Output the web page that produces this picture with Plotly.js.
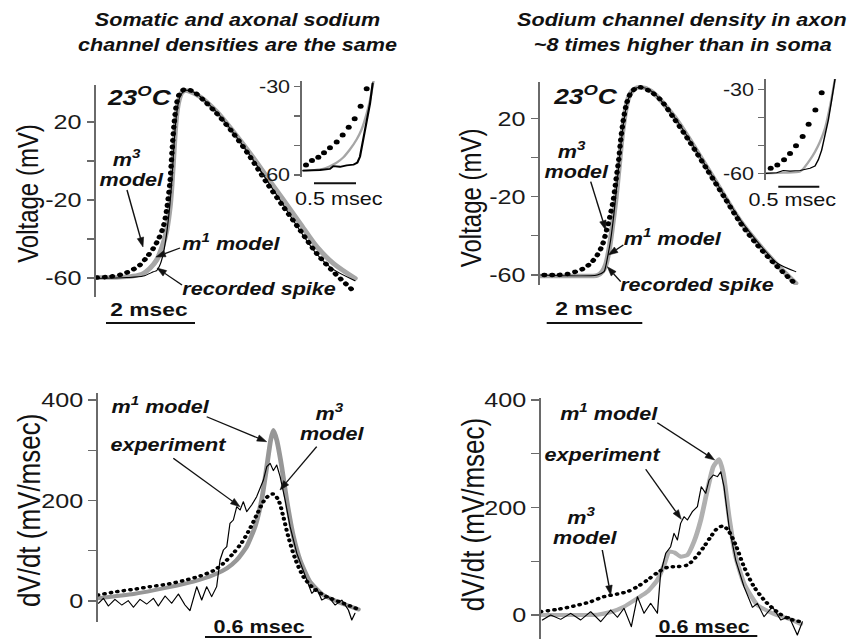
<!DOCTYPE html>
<html><head><meta charset="utf-8">
<script src="https://cdn.plot.ly/plotly-3.0.1.min.js"></script>
<style>
html,body{margin:0;padding:0;background:#fff;overflow:hidden}
#wrap{width:848px;height:639px;overflow:hidden;position:relative}
#chart{width:707px;height:639px;transform:scaleX(1.19943);transform-origin:0 0}
.scatterlayer .js-line{stroke-linecap:round;stroke-linejoin:round}
</style>
</head><body><div id="wrap"><div id="chart"></div></div>
<script>
// ---------- Panel A: equal somatic/axonal densities (time ms, voltage mV) ----------
const aM1T = [0.015,0.464,0.839,1.064,1.213,1.363,1.513,1.588,1.663,1.700,1.738,1.775,1.813,1.865,1.925,2.0,2.112,2.337,2.712,3.086,3.461,3.835,4.21,4.584,4.959,5.333,5.82];
const aM1V = [-59.8,-59.7,-59.0,-57.6,-55.0,-50.8,-42.2,-35.4,-23.4,-13.2,0.5,14.2,24.4,31.3,35.0,36.1,35.6,33.0,25.3,15.0,3.9,-8.0,-20.0,-32.0,-43.9,-52.5,-60.2];
const aM3T = [0.015,0.315,0.614,0.839,0.989,1.139,1.288,1.401,1.513,1.588,1.663,1.708,1.753,1.813,1.888,2.0,2.187,2.412,2.712,3.086,3.461,3.835,4.21,4.584,4.959,5.333,5.745];
const aM3V = [-59.8,-59.3,-57.9,-55.6,-53.3,-49.4,-44.8,-40.2,-33.7,-25.1,-10.6,4.8,18.5,29.6,35.0,36.8,35.6,31.3,24.4,14.2,2.2,-11.1,-23.4,-35.4,-47.4,-56.8,-65.8];
const aRecT = [0.015,0.689,1.064,1.288,1.363,1.438,1.513,1.588,1.663,1.715,1.760,1.813,1.888,2.0,2.187,2.712,3.086,3.461,3.835,4.21,4.584,4.959,5.333,5.82];
const aRecV = [-60.2,-59.8,-59.0,-56.8,-56.2,-53.3,-47.4,-37.1,-21.7,-6.3,10.8,24.4,33.0,36.1,35.4,25.1,14.5,2.9,-9.7,-22.6,-35.7,-47.7,-55.6,-61.4];
// inset A
const iaM3T = [0.048,0.119,0.194,0.262,0.333,0.413,0.484,0.556,0.627,0.698,0.770];
const iaM3V = [-56.6,-55.1,-54.0,-52.4,-50.7,-48.8,-46.4,-43.8,-40.9,-36.6,-30.7];
const iaM1T = [0.016,0.135,0.254,0.333,0.413,0.492,0.571,0.651,0.710,0.770,0.810,0.857];
const iaM1V = [-58.5,-58.3,-57.9,-57.0,-55.8,-54.0,-51.3,-47.9,-44.5,-39.1,-34.5,-27.2];
const iaRecT = [0.016,0.214,0.333,0.373,0.452,0.532,0.611,0.659,0.690,0.730,0.770,0.810,0.841];
const iaRecV = [-58.5,-58.3,-57.9,-57.0,-57.2,-56.7,-56.5,-55.8,-53.8,-48.1,-42.5,-35.7,-28.9];

// ---------- Panel B: axon density ~8x soma ----------
const bM3T = [0.084,0.363,0.572,0.746,0.921,1.06,1.199,1.304,1.395,1.478,1.534,1.59,1.646,1.688,1.743,1.813,1.897,2.001,2.106,2.315,2.524,2.803,3.152,3.501,3.849,4.198,4.547,4.895,5.328];
const bM3V = [-60.0,-60.0,-59.5,-58.3,-56.6,-54.0,-49.8,-44.7,-37.0,-28.5,-21.7,-11.5,-1.3,8.9,19.1,27.7,32.8,35.3,35.8,33.6,29.4,20.0,7.2,-6.4,-20.0,-33.6,-44.7,-54.0,-64.2];
const bM1T = [0.014,0.711,1.199,1.304,1.374,1.444,1.513,1.583,1.653,1.722,1.792,1.862,1.967,2.106,2.315,2.803,3.501,4.198,4.895,5.349];
const bM1V = [-60.5,-60.5,-60.2,-58.3,-54.9,-47.2,-35.3,-21.7,-4.7,12.3,24.3,31.1,34.8,35.8,34.1,20.9,-5.5,-32.8,-53.2,-64.2];
const bRecT = [0.014,1.199,1.339,1.374,1.409,1.478,1.548,1.618,1.688,1.757,1.841,1.967,2.106,2.315,2.803,3.501,4.198,4.547,4.756,4.965,5.349];
const bRecV = [-60.0,-60.0,-58.3,-55.7,-51.5,-42.1,-28.5,-11.5,5.5,19.1,29.4,34.8,35.8,34.1,20.9,-5.5,-32.0,-43.0,-48.9,-54.0,-58.3];
// inset B
const ibM3T = [0.057,0.138,0.220,0.293,0.366,0.447,0.520,0.602,0.679];
const ibM3V = [-58.2,-57.0,-55.2,-52.9,-50.2,-46.9,-42.5,-37.4,-31.2];
const ibM1T = [0,0.211,0.415,0.476,0.537,0.598,0.659,0.720,0.780,0.841];
const ibM1V = [-60.0,-59.8,-59.4,-57.6,-55.2,-52.3,-48.7,-43.9,-36.2,-26.4];
const ibRecT = [0,0.130,0.211,0.293,0.415,0.537,0.598,0.638,0.679,0.720,0.760,0.801,0.841];
const ibRecV = [-60,-59.8,-59.0,-59.2,-59.0,-58.2,-57.4,-55.2,-51.7,-46.9,-41.0,-33.8,-26.4];

// ---------- Panel C: dV/dt, equal densities (ms, mV/msec) ----------
const cM1T = [0,0.201,0.388,0.538,0.651,0.726,0.782,0.838,0.885,0.922,0.951,0.973,0.988,1.007,1.035,1.063,1.101,1.138,1.194,1.269,1.363,1.466];
const cM1D = [5.3,13.9,26.5,38.5,51.7,65.0,81.6,108.1,147.9,201.0,267.3,320.4,340.3,320.4,267.3,201.0,128.0,81.6,38.5,11.9,-3.3,-16.6];
const cM3T = [0,0.107,0.201,0.294,0.388,0.482,0.576,0.651,0.707,0.763,0.810,0.857,0.894,0.932,0.960,0.988,1.016,1.044,1.072,1.110,1.157,1.213,1.288,1.382,1.466];
const cM3D = [11.9,18.6,23.2,28.5,33.2,40.5,49.8,60.4,75.0,94.9,116.1,144.6,171.1,197.7,209.0,212.9,201.0,167.8,128.0,84.9,48.4,25.2,8.6,-4.6,-16.6];
const cExpT = [0.004,0.032,0.060,0.097,0.135,0.172,0.201,0.238,0.276,0.313,0.341,0.379,0.416,0.454,0.491,0.519,0.557,0.585,0.613,0.641,0.669,0.688,0.707,0.726,0.744,0.763,0.782,0.801,0.819,0.838,0.866,0.894,0.932,0.951,0.970,0.988,1.007,1.026,1.054,1.082,1.120,1.148,1.176,1.204,1.232,1.260,1.297,1.335,1.373,1.410,1.429,1.447];
const cExpD = [-4.6,5.3,-10.0,3.3,-8.0,0.7,-12.6,3.3,-6.0,5.3,-10.0,10.0,-4.6,13.9,-8.0,-19.2,28.5,2.0,28.5,8.6,28.5,81.6,101.5,108.1,154.6,161.2,187.7,181.1,197.7,177.8,191.0,207.6,240.8,267.3,274.0,259.4,270.6,247.4,201.0,147.9,94.9,68.3,38.5,15.3,25.2,2.0,8.6,-8.0,2.0,-17.9,-37.8,-24.5];

// ---------- Panel D: dV/dt, axon density ~8x ----------
const dM1T = [0,0.197,0.335,0.413,0.492,0.571,0.630,0.689,0.728,0.758,0.791,0.826,0.866,0.905,0.945,0.984,1.019,1.053,1.078,1.112,1.151,1.2,1.279,1.377,1.476,1.535];
const dM1D = [0,0,0.6,5.6,15.5,31.0,43.4,65.1,93.0,117.8,116.0,108.5,111.6,136.4,176.7,232.6,276.0,289.6,263.6,182.9,108.5,58.9,18.6,1.9,-8.1,-16.7];
const dM3T = [0,0.098,0.197,0.295,0.374,0.453,0.512,0.571,0.630,0.689,0.748,0.807,0.866,0.915,0.964,1.004,1.043,1.078,1.112,1.151,1.2,1.259,1.328,1.407,1.476,1.535];
const dM3D = [6.2,10.5,16.7,24.8,34.1,39.1,43.4,52.7,65.1,78.8,88.7,89.9,93.0,107.3,127.1,145.7,161.2,165.6,155.0,130.2,89.9,52.7,24.8,3.1,-8.1,-12.4];
const dExpT = [0.010,0.059,0.118,0.177,0.236,0.295,0.354,0.413,0.453,0.492,0.535,0.571,0.610,0.649,0.689,0.708,0.738,0.767,0.787,0.807,0.826,0.846,0.866,0.895,0.925,0.948,0.974,0.994,1.019,1.043,1.063,1.082,1.112,1.151,1.2,1.25,1.279,1.318,1.368,1.417,1.466,1.515,1.545];
const dExpD = [-9.3,0,-8.1,3.1,-9.3,6.2,-12.4,9.3,-4.3,12.4,-21.7,34.1,3.1,21.7,3.1,77.5,114.7,127.1,151.9,139.5,170.5,182.9,176.7,192.2,201.6,238.8,226.4,251.2,260.5,257.4,266.7,238.8,164.3,102.3,52.7,14.3,21.7,-3.1,15.5,-9.3,-3.1,-37.2,-12.4];

// ---------- tick labels ----------
const vTickVals = [20,-20,-60], vTickText = ['20','-20','-60'], vMinor = [0,-40];
const iTickVals = [-30,-60], iTickText = ['-30','-60'], iMinor = [-40,-50];
const dTickVals = [0,200,400], dTickText = ['0','200','400'], dMinor = [100,300];

// ---------- layout helpers (reference pixel frame 848 x 639) ----------
const W = 848, H = 639;
const F = 'Liberation Sans, Arial, Helvetica, sans-serif';
const AX = '#6a6a6a';
const xd = (p0,p1) => [p0/W, p1/W];
const yd = (p0,p1) => [1-p1/H, 1-p0/H];
const xr = (p0,p1,t0,s) => [(p0-t0)/s, (p1-t0)/s];
function yr(p0,p1,pa,va,pb,vb){const k=(vb-va)/(pb-pa);return [va+(p1-pa)*k, va+(p0-pa)*k];}
function xAxis(b,t0,s,anchor){return {domain:xd(b[0],b[1]),range:xr(b[0],b[1],t0,s),anchor,visible:false,fixedrange:true};}
function yAxis(b,c,tv,tt,mv,anchor,fs,tl){
  return {domain:yd(b[0],b[1]),range:yr(b[0],b[1],c[0],c[1],c[2],c[3]),anchor,showgrid:false,zeroline:false,
    showline:true,linecolor:AX,linewidth:1.3,ticks:'outside',ticklen:tl,tickwidth:1.3,tickcolor:AX,
    tickmode:'array',tickvals:tv,ticktext:tt,tickfont:{family:F,size:fs,color:'#1a1a1a'},
    minor:{tickmode:'array',tickvals:mv,ticks:'outside',ticklen:tl,tickwidth:1.3,tickcolor:AX,showgrid:false},
    fixedrange:true};
}
function line(x,y,xa,ya,color,width,opts){
  return {type:'scatter',mode:'lines',x,y,xaxis:xa,yaxis:ya,hoverinfo:'skip',showlegend:false,
    line:Object.assign({color,width,shape:'spline',smoothing:0.8},opts||{})};
}
function dots(x,y,xa,ya,size){
  return {type:'scatter',mode:'markers',x,y,xaxis:xa,yaxis:ya,hoverinfo:'skip',showlegend:false,
    marker:{color:'#000',size,line:{width:0}}};
}

const GREY_T = '#a6a6a6', GREY_C = '#979797', GREY_D = '#b0b0b0';
const data = [
  line(aM1T,aM1V,'x','y',GREY_T,4.5),
  line(aM3T,aM3V,'x','y','#000',4.5,{dash:'0.5px,6px'}),
  line(aRecT,aRecV,'x','y','#000',1),
  line(iaM1T,iaM1V,'x2','y2',GREY_T,2),
  line(iaRecT,iaRecV,'x2','y2','#000',1.8,{shape:'linear'}),
  dots(iaM3T,iaM3V,'x2','y2',5),
  line(bM1T,bM1V,'x3','y3',GREY_T,4.5),
  line(bM3T,bM3V,'x3','y3','#000',4.5,{dash:'0.5px,6px'}),
  line(bRecT,bRecV,'x3','y3','#000',1),
  line(ibM1T,ibM1V,'x4','y4',GREY_T,2),
  line(ibRecT,ibRecV,'x4','y4','#000',1.2,{shape:'linear'}),
  dots(ibM3T,ibM3V,'x4','y4',5),
  line(cM1T,cM1D,'x5','y5',GREY_C,4,{smoothing:0.5}),
  line(cM3T,cM3D,'x5','y5','#000',3.5,{dash:'0.5px,5px'}),
  line(cExpT,cExpD,'x5','y5','#000',1,{shape:'linear'}),
  line(dM1T,dM1D,'x6','y6',GREY_D,4,{smoothing:0.5}),
  line(dM3T,dM3D,'x6','y6','#000',3.5,{dash:'0.5px,5px'}),
  line(dExpT,dExpD,'x6','y6','#000',1,{shape:'linear'})
];

const ann = [];
const shapes = [];
function T(text,px,py,size,style,extra){
  let t = text;
  if(style==='bi') t = '<b><i>'+text+'</i></b>';
  else if(style==='b') t = '<b>'+text+'</b>';
  ann.push(Object.assign({text:t,x:px/W,y:1-py/H,xref:'paper',yref:'paper',showarrow:false,borderpad:0,
    xanchor:'center',yanchor:'middle',font:{family:F,size,color:'#111'}},extra||{}));
}
const P = (x,y) => (x/W).toFixed(5)+','+(1-y/H).toFixed(5);
function ARR(tx,ty,hx,hy){
  const dx=hx-tx, dy=hy-ty, L=Math.hypot(dx,dy), ux=dx/L, uy=dy/L;
  const hl=9.5, hw=3.3, bx=hx-ux*hl, by=hy-uy*hl, nx=-uy, ny=ux;
  shapes.push({type:'line',xref:'paper',yref:'paper',x0:tx/W,y0:1-ty/H,x1:bx/W,y1:1-by/H,line:{color:'#111',width:1.2}});
  shapes.push({type:'path',xref:'paper',yref:'paper',
    path:'M'+P(hx,hy)+' L'+P(bx+nx*hw,by+ny*hw)+' L'+P(bx-nx*hw,by-ny*hw)+' Z',
    fillcolor:'#111',line:{color:'#111',width:0.5}});
}
function BAR(x0,x1,y){shapes.push({type:'line',xref:'paper',yref:'paper',x0:x0/W,x1:x1/W,y0:1-y/H,y1:1-y/H,line:{color:'#111',width:2}});}

// titles
T('Somatic and axonal sodium',237,20,18,'bi');
T('channel densities are the same',237,45,18,'bi');
T('Sodium channel density in axon',682,20,18,'bi');
T('~8 times higher than in soma',683,45,18,'bi');
// panel A
T('23<sup>O</sup>C',139,96,22,'bi');
T('m<sup>3</sup>',126,158.5,18,'bi');
T('model',131.7,180,18,'bi');
T('m<sup>1</sup> model',232,243,18,'bi');
T('recorded spike',259,289,18,'bi');
T('2 msec',149,309,19,'b');
T('0.5 msec',339,199,18,'');
ARR(127,190,143,247); ARR(180,248,156,257); ARR(182,285,157,268);
BAR(106,195,323); BAR(314,356,183.3);
// panel B
T('23<sup>O</sup>C',585,95,22,'bi');
T('m<sup>3</sup>',571.5,150,18,'bi');
T('model',576.5,171.5,18,'bi');
T('m<sup>1</sup> model',672.3,237,18,'bi');
T('recorded spike',697.3,285.4,18,'bi');
T('2 msec',594,308,19,'b');
T('0.5 msec',791.7,200.4,18,'');
ARR(590.7,181.7,605.7,230); ARR(623.3,245,608.3,255); ARR(620.7,281.7,607.3,266.7);
BAR(546.7,642.3,323); BAR(778.3,819.3,186.7);
// panel C
T('m<sup>1</sup> model',160.8,405.4,18,'bi');
T('experiment',168.3,445.4,18,'bi');
T('m<sup>3</sup>',329,412,18,'bi');
T('model',332.5,434.4,18,'bi');
T('0.6 msec',259.2,627,18,'b');
ARR(206.7,416.7,266.7,441.7); ARR(173.3,458.3,240,506.7); ARR(316.7,446.7,280,490);
BAR(205,311.7,637);
// panel D
T('m<sup>1</sup> model',609,412.7,18,'bi');
T('experiment',603.2,455.4,18,'bi');
T('m<sup>3</sup>',581.5,516.5,18,'bi');
T('model',584.8,538,18,'bi');
T('0.6 msec',704,627,18,'b');
ARR(657.3,422.7,714.7,460); ARR(645.7,469.3,681.3,519.3); ARR(602.3,550,610.7,595);
BAR(655.7,757.3,636);
// axis titles
T('Voltage (mV)',28,193.5,24,'',{textangle:-90});
T('Voltage (mV)',471,197.5,24,'',{textangle:-90});
T('dV/dt (mV/msec)',29,510,26,'',{textangle:-90});
T('dV/dt (mV/msec)',473,514,26,'',{textangle:-90});

const layout = {
  width:707,height:639,autosize:false,margin:{l:0,r:0,t:0,b:0},paper_bgcolor:'#fff',plot_bgcolor:'rgba(0,0,0,0)',
  showlegend:false,
  xaxis: xAxis([96,362],96,44.5,'y'),
  yaxis: yAxis([85,297],[122,20,278,-60],vTickVals,vTickText,vMinor,'x',21,6.5),
  xaxis2: xAxis([302,380],302,84,'y2'),
  yaxis2: yAxis([81,177],[86.7,-30,175,-60],iTickVals,iTickText,iMinor,'x2',18,5),
  xaxis3: xAxis([540,800],540,47.8,'y3'),
  yaxis3: yAxis([82,285],[118.3,20,275,-60],vTickVals,vTickText,vMinor,'x3',21,6.5),
  xaxis4: xAxis([766,840],766,82,'y4'),
  yaxis4: yAxis([79,180],[89.3,-30,173.3,-60],iTickVals,iTickText,iMinor,'x4',18,5),
  xaxis5: xAxis([97.7,362],97.7,177.8,'y5'),
  yaxis5: yAxis([393,622],[400,400,601,0],dTickVals,dTickText,dMinor,'x5',21,6.5),
  xaxis6: xAxis([540.7,806],540.7,169.4,'y6'),
  yaxis6: yAxis([398,639],[400,400,615,0],dTickVals,dTickText,dMinor,'x6',21,6.5),
  annotations: ann,
  shapes: shapes
};
Plotly.newPlot('chart',data,layout,{displayModeBar:false,staticPlot:true,responsive:false});
</script>
</body></html>
